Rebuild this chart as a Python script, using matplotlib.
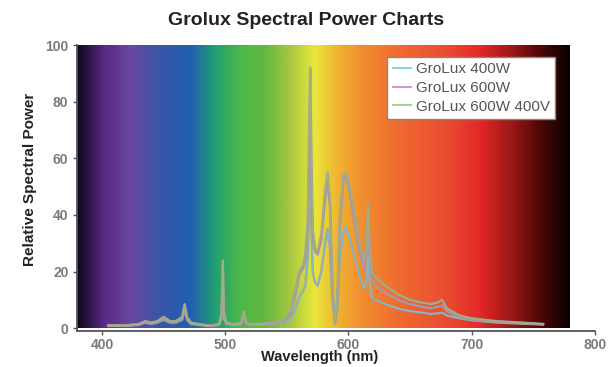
import numpy as np
import matplotlib
matplotlib.use("Agg")
import matplotlib.pyplot as plt
from matplotlib.colors import LinearSegmentedColormap
from matplotlib.lines import Line2D
import matplotlib.patheffects as pe

plt.rcParams['font.family'] = ['Liberation Sans', 'DejaVu Sans']

# ---- data ----
wavelength = [405, 420, 430, 435, 440, 445, 450, 455, 460, 465, 467, 469, 472, 478, 485, 490,
              495, 497, 498, 499, 501, 505, 510, 513, 515, 517, 520, 530, 540, 548, 553, 557,
              560, 563, 565, 567, 568, 569, 570, 571, 573, 575, 578, 581, 583, 585, 587, 589,
              591, 593, 596, 598, 601, 605, 610, 613, 615, 616, 617, 619, 622, 630, 640, 650,
              660, 667, 672, 676, 680, 690, 700, 720, 740, 758]

grolux_600w_400v = [1, 1, 1.5, 2.5, 2, 2.5, 4, 2.5, 2.5, 4, 8.5, 4, 2, 1.5, 1, 1,
                    1.5, 5, 24, 5, 2, 1.5, 1.5, 2, 6, 2, 1.5, 1.5, 2, 3, 6, 14,
                    20, 22, 26, 38, 70, 92, 60, 35, 28, 27, 33, 48, 55, 45, 15, 2,
                    10, 38, 54, 55, 50, 40, 28, 24, 30, 44, 30, 20, 18, 15, 12, 10,
                    9, 8.5, 9, 10, 7, 4.5, 3.5, 2.5, 2, 1.5]

grolux_600w = [1, 1, 1.4, 2.2, 1.8, 2.2, 3.5, 2.2, 2.2, 3.5, 7.5, 3.5, 1.8, 1.4, 1, 1,
               1.4, 4.5, 22, 4.5, 1.8, 1.4, 1.4, 1.8, 5, 1.8, 1.4, 1.4, 1.8, 2.5, 5, 12,
               19, 21, 24, 35, 55, 72, 48, 32, 27, 26, 31, 45, 53, 43, 14, 2,
               9, 35, 52, 54, 48, 37, 25, 21, 27, 40, 26, 17, 15, 12.5, 10, 8.5,
               7.5, 7, 7.5, 8, 6, 4, 3, 2.2, 1.8, 1.4]

grolux_400w = [0.8, 0.8, 1.2, 2, 1.5, 2, 3, 2, 2, 3, 6.5, 3, 1.5, 1.2, 0.8, 0.8,
               1.2, 3.5, 16, 3.5, 1.5, 1.2, 1.2, 1.5, 4, 1.5, 1.2, 1.2, 1.5, 2, 3, 7,
               11, 13, 15, 25, 40, 55, 35, 20, 16, 15, 20, 30, 35, 28, 10, 1.5,
               7, 24, 34, 36, 32, 25, 17, 14, 18, 28, 17, 11, 10, 8.5, 7, 6,
               5.5, 5, 5.2, 5.5, 4.5, 3.5, 2.8, 2, 1.6, 1.3]

series_labels = ["GroLux 400W", "GroLux 600W", "GroLux 600W 400V"]
series_data = [grolux_400w, grolux_600w, grolux_600w_400v]
line_colors = ['#84bccc', '#b48cb0', '#a6b07e']
legend_colors = ['#6cc8e0', '#cc7fc4', '#8fd06c']

x_ticks = [400, 500, 600, 700, 800]
y_ticks = [0, 20, 40, 60, 80, 100]

# visible spectrum background colours (nm, colour)
spec_nm = [380, 402, 423, 447, 472, 492, 512, 532, 553, 573, 593, 610, 642, 683, 707, 732, 756, 780]
spec_col = ['#120820', '#5a2a88', '#6a48a0', '#3a56a8', '#2060b0', '#20a070', '#4cb848', '#62b840',
            '#a8c840', '#e8e63c', '#f0b030', '#f09030', '#f06a30', '#e84a30', '#e52828', '#a01818',
            '#500808', '#0a0000']

fig = plt.figure(figsize=(6.10, 3.67), dpi=100)
ax = fig.add_axes([0.127, 0.098, 0.848, 0.779])

lo, hi = spec_nm[0], spec_nm[-1]
cmap = LinearSegmentedColormap.from_list(
    'spec', [((n - lo) / (hi - lo), c) for n, c in zip(spec_nm, spec_col)])
grad = np.linspace(0, 1, 800).reshape(1, -1)
ax.imshow(grad, cmap=cmap, aspect='auto', extent=(lo, hi, 0, 100), zorder=0, interpolation='bilinear')

for lab, vals, col in zip(series_labels, series_data, line_colors):
    ax.plot(wavelength, vals, color=col, lw=0.9, label=lab, zorder=3,
            path_effects=[pe.Stroke(linewidth=1.7, foreground='#a0a098'), pe.Normal()])

ax.set_xlim(380, 800)
ax.set_ylim(-1, 100)
ax.set_xticks(x_ticks)
ax.set_yticks(y_ticks)
for s in ['top', 'right']:
    ax.spines[s].set_visible(False)
for s in ['left', 'bottom']:
    ax.spines[s].set_color('#555555')
    ax.spines[s].set_linewidth(1.3)
ax.tick_params(axis='both', direction='out', length=3, width=1, color='#555555',
               labelcolor='#7a7a7a', labelsize=10)
ax.tick_params(axis='x', pad=2)
for t in ax.get_xticklabels() + ax.get_yticklabels():
    t.set_fontweight('bold')

ax.set_xlabel('Wavelength (nm)', fontsize=10.5, fontweight='bold', color='#222222')
ax.set_ylabel('Relative Spectral Power', fontsize=11, fontweight='bold', color='#222222')
ax.xaxis.set_label_coords(0.469, -0.068)
ax.yaxis.set_label_coords(-0.078, 0.53)

fig.text(0.502, 0.945, 'Grolux Spectral Power Charts', ha='center', va='center',
         fontsize=14, fontweight='bold', color='#222222')

handles = [Line2D([0], [0], color=c, lw=1.2) for c in legend_colors]
leg = ax.legend(handles, series_labels, loc='upper right', bbox_to_anchor=(0.923, 0.958),
                fontsize=11, frameon=True, fancybox=False, handlelength=1.2,
                handletextpad=0.3, borderpad=0.35, labelspacing=0.3, borderaxespad=0)
leg.get_frame().set_edgecolor('#888888')
leg.get_frame().set_linewidth(1.0)
leg.get_frame().set_facecolor('white')
leg.get_frame().set_alpha(1)
for t in leg.get_texts():
    t.set_color('#555555')

fig.savefig('out.png', dpi=100)
